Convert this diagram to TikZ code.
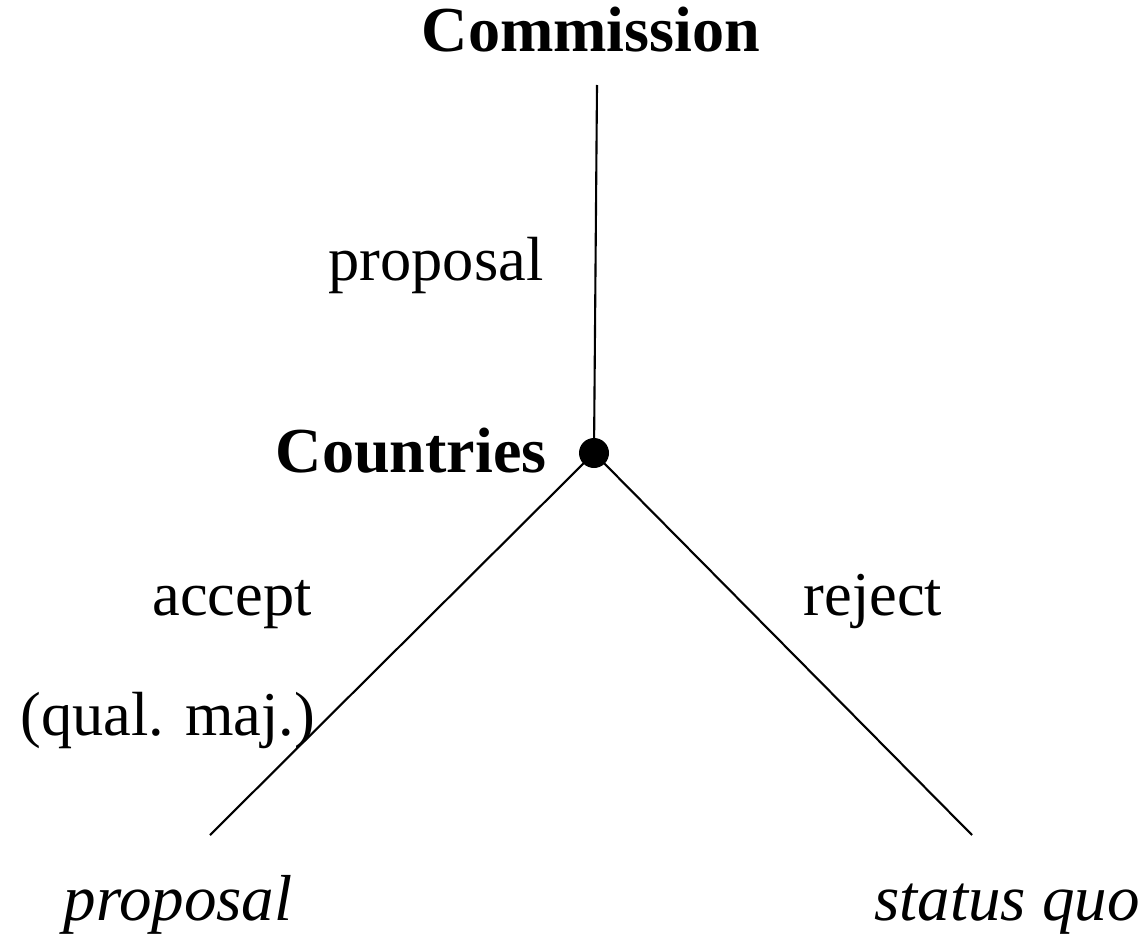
\documentclass[tikz,border=0pt]{standalone}
\usepackage{fontspec}
\setmainfont{Liberation Serif}
\usetikzlibrary{positioning}

\begin{document}
\begin{tikzpicture}[x=0.02cm,y=-0.02cm,
  lbl/.style={font=\fontsize{35.5}{40}\selectfont,inner sep=0pt,anchor=base},
  player/.style={lbl,font=\fontsize{36.5}{40}\selectfont\bfseries},
  outcome/.style={lbl,font=\fontsize{37}{40}\selectfont\itshape}]
\useasboundingbox (0,0) rectangle (1145,936);
% players and decision node
\node[player] (comm) at (591,52) {Commission};
\coordinate (top) at (597,85);
\fill (594,453) circle (15) coordinate (root);
\node[player,anchor=base east] (ctry) at (547,472) {Countries};
% end points
\coordinate (left) at (210,835);
\coordinate (right) at (972,835);
\draw[line width=1.2pt] (top) -- (root);
\draw[line width=1.2pt] (root) -- (left);
\draw[line width=1.2pt] (root) -- (right);
% branch labels
\node[lbl] (prop) at (436,280) {proposal};
\node[lbl] (acc) at (232,615) {accept};
\node[lbl] (qual) at (168,735) {(qual. maj.)};
\node[lbl] (rej) at (873,615) {reject};
% outcomes
\node[outcome] (out1) at (178,920) {proposal};
\node[outcome] (out2) at (1007,920) {status quo};
\end{tikzpicture}
\end{document}
